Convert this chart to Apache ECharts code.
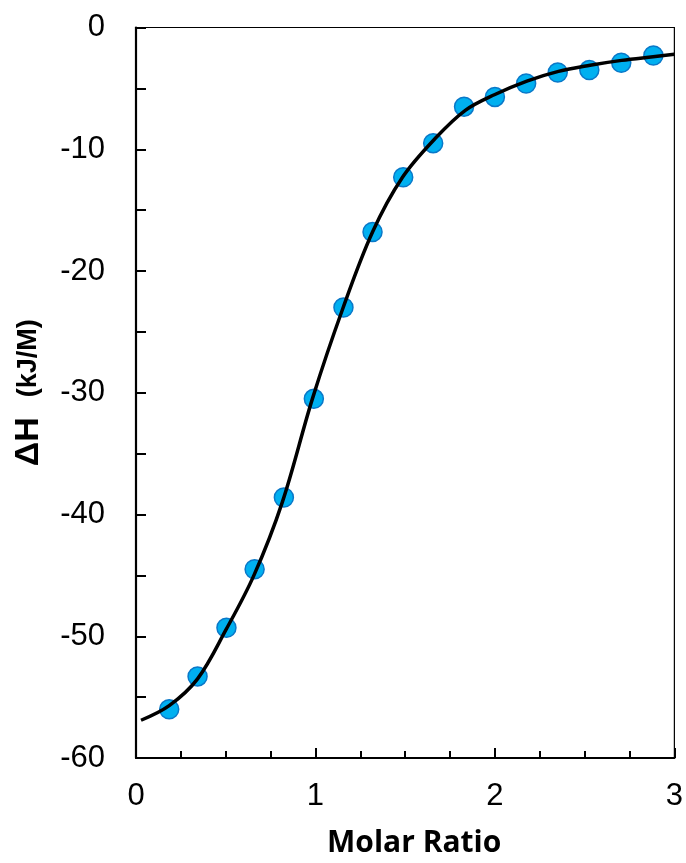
<!DOCTYPE html>
<html>
<head>
<meta charset="utf-8">
<script src="https://cdn.jsdelivr.net/npm/echarts@6/dist/echarts.min.js"></script>
<style>
html,body{margin:0;padding:0;background:#fff;}
#chart{width:686px;height:863px;}
</style>
</head>
<body>
<div id="chart"></div>
<script>
// Measured data points (Molar Ratio, ΔH kJ/M)
var pointX = [0.185, 0.343, 0.504, 0.661, 0.824, 0.991, 1.156, 1.318, 1.489, 1.656, 1.828, 2.0, 2.174, 2.35, 2.526, 2.704, 2.883];
var pointY = [-56.0, -53.3, -49.3, -44.5, -38.6, -30.5, -23.0, -16.8, -12.3, -9.5, -6.5, -5.7, -4.6, -3.7, -3.5, -2.9, -2.3];

// Fitted curve
var fitX = [0.028, 0.185, 0.343, 0.5, 0.657, 0.815, 0.985, 1.152, 1.318, 1.485, 1.668, 1.835, 2.0, 2.178, 2.354, 2.53, 2.706, 2.882, 3.0];
var fitY = [-56.9, -55.7, -53.5, -49.5, -45.0, -39.0, -30.4, -23.1, -16.8, -12.3, -9.1, -6.8, -5.5, -4.4, -3.6, -3.1, -2.7, -2.4, -2.2];

// Axis settings
var xTicks = {min: 0, max: 3, interval: 1};
var yTicks = {min: -60, max: 0, interval: 10};

var points = pointX.map(function (x, i) { return [x, pointY[i]]; });
var fit = fitX.map(function (x, i) { return [x, fitY[i]]; });

var chart = echarts.init(document.getElementById('chart'), null, {renderer: 'canvas'});
var labelFont = {color: '#000', fontFamily: 'Liberation Sans, Arial, sans-serif', fontSize: 31};

chart.setOption({
  animation: false,
  backgroundColor: '#fff',
  grid: {left: 136, right: 10, top: 27.5, bottom: 102, show: true, borderColor: '#000', borderWidth: 1.2, backgroundColor: 'transparent'},
  xAxis: {
    type: 'value', min: xTicks.min, max: xTicks.max, interval: xTicks.interval,
    name: 'Molar Ratio', nameLocation: 'middle', nameGap: 70,
    nameTextStyle: {color: '#000', fontFamily: 'Open Sans, sans-serif', fontWeight: 'bold', fontSize: 30, padding: [0, 0, 0, 18]},
    axisLine: {show: true, onZero: false, lineStyle: {color: '#000', width: 2.2}},
    axisTick: {show: true, inside: true, length: 10, lineStyle: {color: '#000', width: 2}},
    minorTick: {show: true, splitNumber: 4, length: 7, lineStyle: {color: '#000', width: 2}},
    splitLine: {show: false},
    axisLabel: Object.assign({margin: 23}, labelFont)
  },
  yAxis: {
    type: 'value', min: yTicks.min, max: yTicks.max, interval: yTicks.interval,
    name: '{a|ΔH}{b|(kJ/M)}', nameLocation: 'middle', nameGap: 90, nameRotate: 90,
    nameTextStyle: {
      color: '#000',
      rich: {
        a: {fontFamily: 'Liberation Sans, Arial, sans-serif', fontWeight: 'bold', fontSize: 34, color: '#000', padding: [0, 20, 0, 0]},
        b: {fontFamily: 'Liberation Sans, Arial, sans-serif', fontWeight: 'bold', fontSize: 27, color: '#000'}
      }
    },
    axisLine: {show: true, onZero: false, lineStyle: {color: '#000', width: 2.2}},
    axisTick: {show: true, inside: true, length: 10, lineStyle: {color: '#000', width: 2}},
    minorTick: {show: true, splitNumber: 2, length: 10, lineStyle: {color: '#000', width: 2}},
    splitLine: {show: false},
    axisLabel: Object.assign({margin: 31}, labelFont)
  },
  series: [
    {
      type: 'scatter', data: points, symbol: 'circle', symbolSize: 19, z: 2,
      itemStyle: {color: '#00B0F0', borderColor: '#0A78C8', borderWidth: 1.5, opacity: 1}
    },
    {
      type: 'line', data: fit, smooth: 0.35, showSymbol: false, symbol: 'none', z: 3,
      lineStyle: {color: '#000', width: 3.5}
    }
  ]
});
</script>
</body>
</html>
